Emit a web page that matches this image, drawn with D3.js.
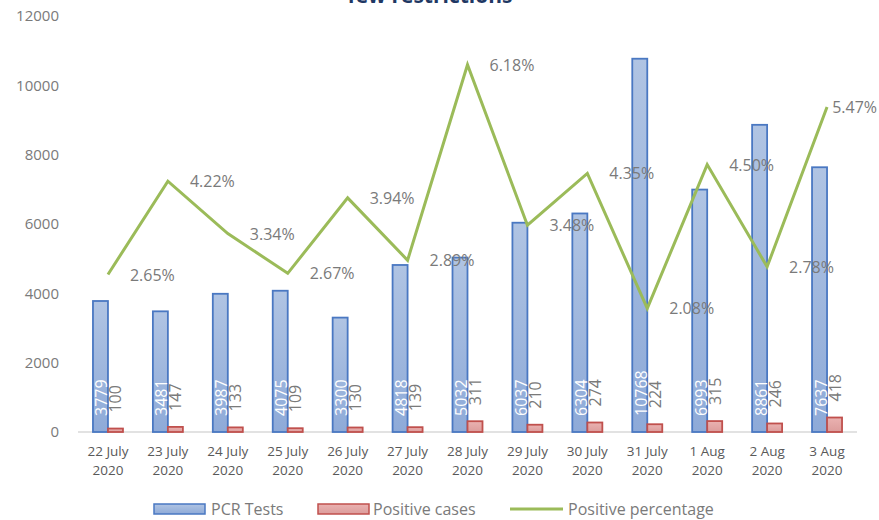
<!DOCTYPE html>
<html>
<head>
<meta charset="utf-8">
<script src="https://cdn.jsdelivr.net/npm/d3@7/dist/d3.min.js"></script>
<style>
  body { margin: 0; background: #fff; }
  svg { display: block; font-family: "Open Sans", "Noto Sans", sans-serif; }
</style>
</head>
<body>
<div id="chart"></div>
<script>
// PCR tests vs positive cases, with positive percentage line

const dates = ["22 July", "23 July", "24 July", "25 July", "26 July", "27 July", "28 July",
  "29 July", "30 July", "31 July", "1 Aug", "2 Aug", "3 Aug"];
const pcrTests = [3779, 3481, 3987, 4075, 3300, 4818, 5032, 6037, 6304, 10768, 6993, 8861, 7637];
const positiveCases = [100, 147, 133, 109, 130, 139, 311, 210, 274, 224, 315, 246, 418];
const positivePct = [2.65, 4.22, 3.34, 2.67, 3.94, 2.89, 6.18, 3.48, 4.35, 2.08, 4.50, 2.78, 5.47];
const yTicks = [0, 2000, 4000, 6000, 8000, 10000, 12000];

const width = 879, height = 520;
const plot = { left: 78, right: 857, top: 16, bottom: 432 };
const textGrey = "#7a7a7a";

const svg = d3.select("#chart").append("svg")
  .attr("width", width)
  .attr("height", height);

const defs = svg.append("defs");
const blueGrad = defs.append("linearGradient")
  .attr("id", "blueGrad").attr("x1", 0).attr("y1", 0).attr("x2", 0).attr("y2", 1);
blueGrad.append("stop").attr("offset", "0%").attr("stop-color", "#b0c4e3");
blueGrad.append("stop").attr("offset", "100%").attr("stop-color", "#8eaad8");
const redGrad = defs.append("linearGradient")
  .attr("id", "redGrad").attr("x1", 0).attr("y1", 0).attr("x2", 0).attr("y2", 1);
redGrad.append("stop").attr("offset", "0%").attr("stop-color", "#eab2b1");
redGrad.append("stop").attr("offset", "100%").attr("stop-color", "#dc9c9b");

const x = d3.scaleBand()
  .domain(dates)
  .range([plot.left, plot.right]);

const y = d3.scaleLinear()
  .domain([0, 12000])
  .range([plot.bottom, plot.top]);

// secondary (hidden) axis for the percentage line
const y2 = d3.scaleLinear()
  .domain([0, 7])
  .range([plot.bottom, plot.top]);

const cx = d => x(d) + x.bandwidth() / 2;
const barW = 15;

// title (only the bottom of it is in frame)
svg.append("text")
  .attr("x", 430)
  .attr("y", 3)
  .attr("text-anchor", "middle")
  .style("font-size", "21px")
  .style("font-weight", "700")
  .style("fill", "#1f3864")
  .text("few restrictions");

// y axis labels
const yAxis = d3.axisLeft(y).tickValues(yTicks).tickFormat(d3.format("d")).tickSize(0).tickPadding(0);
svg.append("g")
  .attr("transform", "translate(59,0)")
  .call(yAxis)
  .call(g => g.select(".domain").remove())
  .call(g => g.selectAll("text")
    .style("font-family", "'Open Sans', sans-serif")
    .style("font-size", "15px")
    .style("fill", textGrey));

// baseline
svg.append("line")
  .attr("x1", plot.left).attr("x2", plot.right)
  .attr("y1", y(0)).attr("y2", y(0))
  .attr("stroke", "#d9d9d9").attr("stroke-width", 1.5);

// PCR bars
svg.selectAll(".pcr-bar")
  .data(dates)
  .join("rect")
  .attr("class", "pcr-bar")
  .attr("x", d => cx(d) - barW)
  .attr("y", (d, i) => y(pcrTests[i]))
  .attr("width", barW)
  .attr("height", (d, i) => y(0) - y(pcrTests[i]))
  .attr("fill", "url(#blueGrad)")
  .attr("stroke", "#4a78c2")
  .attr("stroke-width", 1.8);

// positive case bars
svg.selectAll(".pos-bar")
  .data(dates)
  .join("rect")
  .attr("class", "pos-bar")
  .attr("x", d => cx(d))
  .attr("y", (d, i) => y(positiveCases[i]))
  .attr("width", barW)
  .attr("height", (d, i) => y(0) - y(positiveCases[i]))
  .attr("fill", "url(#redGrad)")
  .attr("stroke", "#c0504d")
  .attr("stroke-width", 1.8);

// bar value labels, rotated, reading upwards
svg.selectAll(".pcr-label")
  .data(dates)
  .join("text")
  .attr("class", "pcr-label")
  .attr("transform", d => `translate(${cx(d) - barW / 2 + 1},${y(0) - 16}) rotate(-90)`)
  .attr("dominant-baseline", "central")
  .style("font-size", "16px")
  .style("fill", "#ffffff")
  .text((d, i) => pcrTests[i]);

svg.selectAll(".pos-label")
  .data(dates)
  .join("text")
  .attr("class", "pos-label")
  .attr("transform", (d, i) => `translate(${cx(d) + barW / 2},${y(positiveCases[i]) - 16}) rotate(-90)`)
  .attr("dominant-baseline", "central")
  .style("font-size", "16px")
  .style("fill", textGrey)
  .text((d, i) => positiveCases[i]);

// percentage line
const line = d3.line()
  .x(d => cx(d.date))
  .y(d => y2(d.value));

const pctData = dates.map((d, i) => ({ date: d, value: positivePct[i] }));

svg.append("path")
  .datum(pctData)
  .attr("d", line)
  .attr("fill", "none")
  .attr("stroke", "#9bbb59")
  .attr("stroke-width", 3)
  .attr("stroke-linejoin", "miter");

svg.selectAll(".pct-label")
  .data(pctData)
  .join("text")
  .attr("class", "pct-label")
  .attr("x", d => cx(d.date) + 22)
  .attr("y", d => y2(d.value))
  .attr("dominant-baseline", "central")
  .style("font-size", "16px")
  .style("fill", textGrey)
  .text(d => d.value.toFixed(2) + "%")
  .each(function() {
    // keep labels inside the chart, like the spreadsheet does
    const w = this.getComputedTextLength();
    const xNow = +this.getAttribute("x");
    if (xNow + w > width - 2) this.setAttribute("x", width - 2 - w);
  });

// x axis category labels (two lines)
const xLabels = svg.selectAll(".x-label")
  .data(dates)
  .join("text")
  .attr("class", "x-label")
  .attr("text-anchor", "middle")
  .style("font-size", "13.5px")
  .style("fill", "#595959");
xLabels.append("tspan").attr("x", d => cx(d)).attr("y", 456).text(d => d);
xLabels.append("tspan").attr("x", d => cx(d)).attr("y", 475).text("2020");

// legend
const legend = svg.append("g").style("font-size", "16px").style("fill", textGrey);
legend.append("rect").attr("x", 154).attr("y", 504).attr("width", 51).attr("height", 10)
  .attr("fill", "url(#blueGrad)").attr("stroke", "#4a78c2").attr("stroke-width", 1.5);
legend.append("text").attr("x", 211).attr("y", 509).attr("dominant-baseline", "central").text("PCR Tests");
legend.append("rect").attr("x", 318).attr("y", 504).attr("width", 51).attr("height", 10)
  .attr("fill", "url(#redGrad)").attr("stroke", "#c0504d").attr("stroke-width", 1.5);
legend.append("text").attr("x", 373).attr("y", 509).attr("dominant-baseline", "central").text("Positive cases");
legend.append("line").attr("x1", 510).attr("x2", 563).attr("y1", 509).attr("y2", 509)
  .attr("stroke", "#9bbb59").attr("stroke-width", 3);
legend.append("text").attr("x", 568).attr("y", 509).attr("dominant-baseline", "central").text("Positive percentage");
</script>
</body>
</html>
